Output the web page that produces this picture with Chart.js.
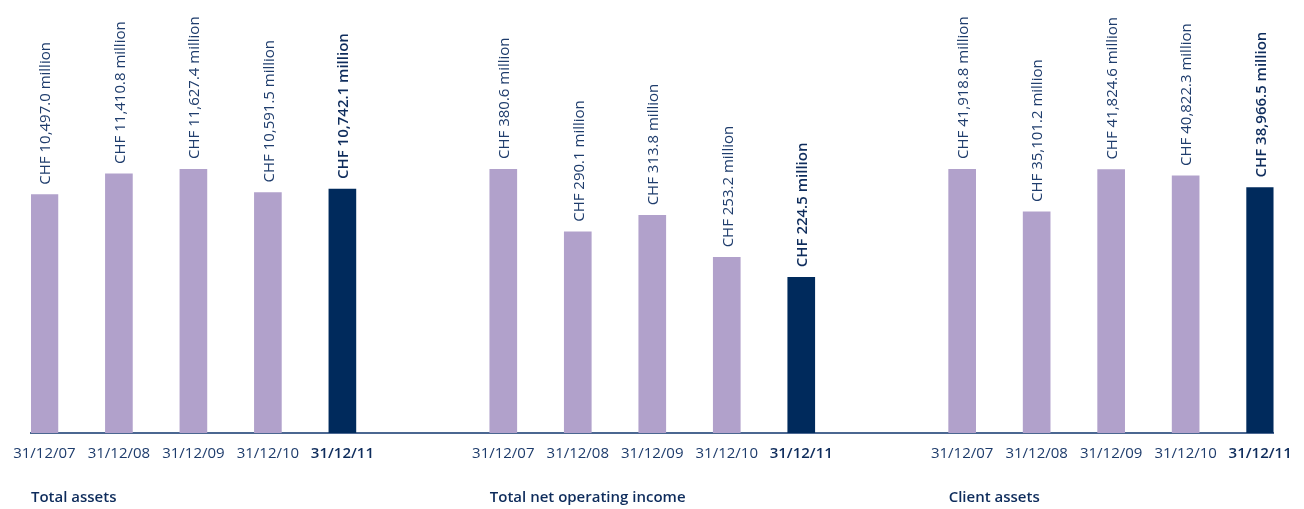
<!DOCTYPE html>
<html>
<head>
<meta charset="utf-8">
<script src="https://cdn.jsdelivr.net/npm/chart.js@4/dist/chart.umd.min.js"></script>
<style>
  html, body { margin: 0; padding: 0; background: #ffffff; }
  #wrap { width: 1304px; height: 509px; position: relative; }
</style>
</head>
<body>
<div id="wrap"><canvas id="c" width="1304" height="509"></canvas></div>
<script>
// ---- data ----
const dates = ['31/12/07', '31/12/08', '31/12/09', '31/12/10', '31/12/11'];
const groupTitles = ['Total assets', 'Total net operating income', 'Client assets'];
const totalAssets = [10497.0, 11410.8, 11627.4, 10591.5, 10742.1];
const netOperatingIncome = [380.6, 290.1, 313.8, 253.2, 224.5];
const clientAssets = [41918.8, 35101.2, 41824.6, 40822.3, 38966.5];
const series = [totalAssets, netOperatingIncome, clientAssets];

// ---- layout helpers ----
const GROUP_STEP = 6.16;
const pos = (g, i) => g * GROUP_STEP + i;
const positions = [];
series.forEach((s, g) => s.forEach((v, i) => positions.push(pos(g, i))));

const LAVENDER = '#b1a1cb';
const NAVY = '#002a5c';
const TEXT = '#1e3c6c';
const TEXT_BOLD = '#0e2c5c';
const FONT = "'Open Sans', 'Noto Sans', sans-serif";

const fmt = v => 'CHF ' + v.toLocaleString('en-US', { minimumFractionDigits: 1, maximumFractionDigits: 1 }) + ' million';

const datasets = series.map((s, g) => ({
  data: s.map((v, i) => ({ x: pos(g, i), y: v })),
  backgroundColor: s.map((v, i) => i === s.length - 1 ? NAVY : LAVENDER),
  yAxisID: 'y' + g,
  grouped: false,
  categoryPercentage: 1,
  barPercentage: 1,
  maxBarThickness: 27,
  borderWidth: 0
}));

const yScales = {};
series.forEach((s, g) => {
  yScales['y' + g] = { display: false, min: 0, max: Math.max(...s) };
});

const labelPlugin = {
  id: 'valueLabels',
  afterDatasetsDraw(chart) {
    const ctx = chart.ctx;
    chart.data.datasets.forEach((ds, di) => {
      const meta = chart.getDatasetMeta(di);
      meta.data.forEach((bar, i) => {
        const last = i === series[di].length - 1;
        ctx.save();
        ctx.translate(bar.x + 1.5, bar.y - 10);
        ctx.rotate(-Math.PI / 2);
        ctx.font = (last ? '600 ' : '400 ') + '15px ' + FONT;
        ctx.fillStyle = last ? TEXT_BOLD : TEXT;
        ctx.textAlign = 'left';
        ctx.textBaseline = 'middle';
        ctx.fillText(fmt(series[di][i]), 0, 0);
        ctx.restore();
      });
    });
    // group titles
    const xs = chart.scales.x;
    ctx.save();
    ctx.font = '600 15px ' + FONT;
    ctx.fillStyle = TEXT_BOLD;
    ctx.textAlign = 'left';
    ctx.textBaseline = 'middle';
    groupTitles.forEach((t, g) => {
      const left = xs.getPixelForValue(pos(g, 0)) - 13.5;
      ctx.fillText(t, left, 498);
    });
    ctx.restore();
  }
};

new Chart(document.getElementById('c'), {
  type: 'bar',
  data: { datasets },
  options: {
    responsive: false,
    animation: false,
    events: [],
    layout: { padding: { top: 169, left: 31, right: 26, bottom: 0 } },
    plugins: { legend: { display: false }, tooltip: { enabled: false } },
    scales: Object.assign({
      x: {
        type: 'linear',
        offset: false,
        min: -0.18,
        max: pos(2, 4) + 0.18,
        afterBuildTicks: s => { s.ticks = positions.map(v => ({ value: v })); },
        afterFit: s => { s.height = 76; },
        grid: { display: false, drawTicks: false },
        border: { display: true, color: '#4b6791', width: 2 },
        ticks: {
          autoSkip: false,
          maxRotation: 0,
          padding: 12,
          callback: (v, idx) => dates[idx % dates.length],
          color: c => (c.index % 5 === 4 ? TEXT_BOLD : TEXT),
          font: c => ({ family: FONT, size: 15, weight: c.index % 5 === 4 ? '600' : '400' })
        }
      }
    }, yScales)
  },
  plugins: [labelPlugin]
});
</script>
</body>
</html>
